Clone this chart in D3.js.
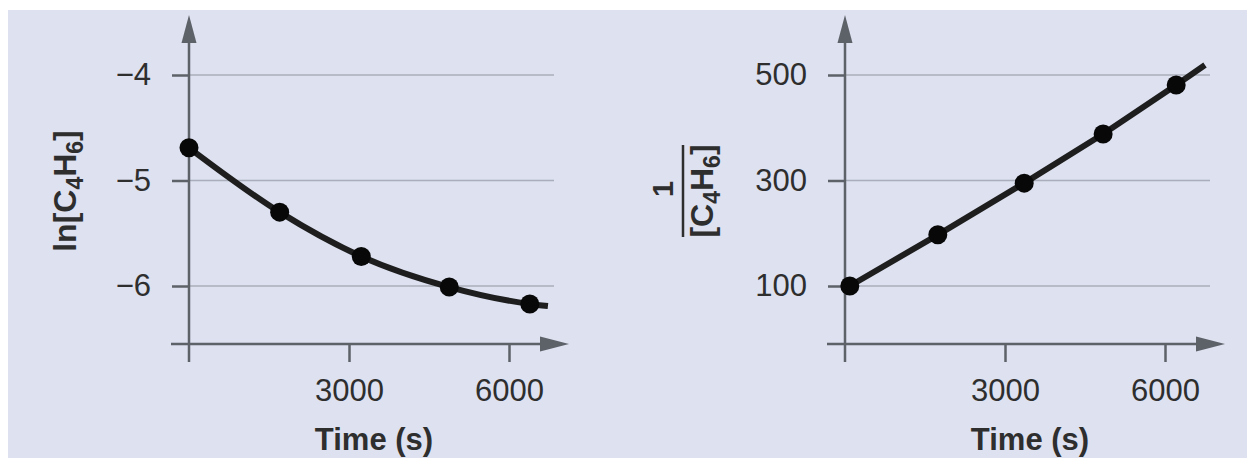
<!DOCTYPE html>
<html>
<head>
<meta charset="utf-8">
<script src="https://cdn.jsdelivr.net/npm/d3@7"></script>
<style>
  html, body { margin: 0; padding: 0; background: #fff; }
  svg { display: block; font-family: "Liberation Sans", Arial, Helvetica, sans-serif; }
</style>
</head>
<body>
<svg id="chart" width="1247" height="458"></svg>
<script>
// values
const timesLn = [0, 1700, 3230, 4880, 6390];
const lnConc = [-4.69, -5.30, -5.72, -6.01, -6.17];
const lnCurveEnd = [6730, -6.19];

const timesInv = [90, 1740, 3360, 4840, 6210];
const invConc = [100, 197, 295, 388, 481];
const invLineEnd = [6750, 519];

const xTicks = [3000, 6000];
const lnTicks = [-4, -5, -6];
const invTicks = [500, 300, 100];
const xTitle = "Time (s)";

const axisColor = "#5d6168";
const gridColor = "#a9aeba";
const textColor = "#2e2e2e";

const svg = d3.select("#chart");

// background
svg.append("rect")
    .attr("x", 8).attr("y", 10)
    .attr("width", 1239).attr("height", 448)
    .attr("fill", "#dde1f0");

function drawPanel(opts) {
    const g = svg.append("g");
    const ax = opts.axisX, ay = 344;

    const x = d3.scaleLinear().domain([0, 6000]).range([ax, ax + 320]);
    const y = d3.scaleLinear().domain(opts.yDomain).range([75, 286]);

    // gridlines
    g.append("g").selectAll("line")
        .data(opts.yTicks)
        .join("line")
        .attr("x1", ax).attr("x2", ax + 365)
        .attr("y1", d => y(d)).attr("y2", d => y(d))
        .attr("stroke", gridColor)
        .attr("stroke-width", 1.5);

    // y axis ticks + labels
    const yAxis = g.append("g")
        .attr("transform", `translate(${ax},0)`)
        .call(d3.axisLeft(y).tickValues(opts.yTicks).tickSize(17).tickPadding(21)
            .tickFormat(opts.yFormat));
    yAxis.select(".domain").remove();
    yAxis.selectAll(".tick line").attr("stroke", axisColor).attr("stroke-width", 2.5);
    yAxis.selectAll(".tick text")
        .attr("fill", textColor)
        .style("font-size", "31px");

    // x axis ticks + labels
    const xAxis = g.append("g")
        .attr("transform", `translate(0,${ay})`)
        .call(d3.axisBottom(x).tickValues(xTicks).tickSize(18).tickPadding(17)
            .tickFormat(d3.format("d")));
    xAxis.select(".domain").remove();
    xAxis.selectAll(".tick line").attr("stroke", axisColor).attr("stroke-width", 2.5);
    xAxis.selectAll(".tick text")
        .attr("fill", textColor)
        .style("font-size", "31px");

    // axis lines with arrows
    g.append("line")
        .attr("x1", ax).attr("x2", ax)
        .attr("y1", 40).attr("y2", 362)
        .attr("stroke", axisColor).attr("stroke-width", 2.5);
    g.append("line")
        .attr("x1", ax - 18).attr("x2", ax + 355)
        .attr("y1", ay).attr("y2", ay)
        .attr("stroke", axisColor).attr("stroke-width", 2.5);
    g.append("path")
        .attr("d", `M${ax},15 L${ax + 7.5},43 L${ax - 7.5},43 Z`)
        .attr("fill", axisColor);
    g.append("path")
        .attr("d", `M${ax + 380},${ay} L${ax + 351},${ay - 7.5} L${ax + 351},${ay + 7.5} Z`)
        .attr("fill", axisColor);

    // x title
    g.append("text")
        .attr("x", ax + 185).attr("y", 450)
        .attr("text-anchor", "middle")
        .attr("fill", textColor)
        .style("font-size", "31px")
        .style("font-weight", "bold")
        .text(xTitle);

    // data line
    const pts = opts.times.map((t, i) => [t, opts.values[i]]).concat([opts.end]);
    const line = d3.line()
        .x(d => x(d[0]))
        .y(d => y(d[1]))
        .curve(opts.curve);
    g.append("path")
        .attr("d", line(pts))
        .attr("fill", "none")
        .attr("stroke", "#1e1e1e")
        .attr("stroke-width", 6);

    // dots
    g.append("g").selectAll("circle")
        .data(opts.times.map((t, i) => [t, opts.values[i]]))
        .join("circle")
        .attr("cx", d => x(d[0]))
        .attr("cy", d => y(d[1]))
        .attr("r", 9.5)
        .attr("fill", "#080808");

    return g;
}

function subLabel(sel, parts, size, subSize) {
    // parts: [text, isSub, backUp]
    parts.forEach(p => {
        sel.append("tspan")
            .attr("dy", p[1] ? 7 : (p[2] ? -7 : 0))
            .style("font-size", (p[1] ? subSize : size) + "px")
            .text(p[0]);
    });
}

// left panel: ln[C4H6]
const left = drawPanel({
    axisX: 189,
    yDomain: [-4, -6],
    yTicks: lnTicks,
    yFormat: d => "\u2212" + Math.abs(d),
    times: timesLn,
    values: lnConc,
    end: lnCurveEnd,
    curve: d3.curveMonotoneX
});

const lt = left.append("text")
    .attr("transform", "translate(76,191) rotate(-90)")
    .attr("text-anchor", "middle")
    .attr("fill", textColor)
    .style("font-weight", "bold");
subLabel(lt, [["ln[C", false], ["4", true], ["H", false, true], ["6", true], ["]", false, true]], 32, 23);

// right panel: 1/[C4H6]
const right = drawPanel({
    axisX: 845,
    yDomain: [500, 100],
    yTicks: invTicks,
    yFormat: d3.format("d"),
    times: timesInv,
    values: invConc,
    end: invLineEnd,
    curve: d3.curveLinear
});

right.append("text")
    .attr("transform", "translate(673,189) rotate(-90)")
    .attr("text-anchor", "middle")
    .attr("fill", textColor)
    .style("font-size", "29px")
    .style("font-weight", "bold")
    .text("1");
right.append("line")
    .attr("x1", 683).attr("x2", 683)
    .attr("y1", 145).attr("y2", 237)
    .attr("stroke", textColor)
    .attr("stroke-width", 2.5);
const rt = right.append("text")
    .attr("transform", "translate(713,191) rotate(-90)")
    .attr("text-anchor", "middle")
    .attr("fill", textColor)
    .style("font-weight", "bold");
subLabel(rt, [["[C", false], ["4", true], ["H", false, true], ["6", true], ["]", false, true]], 32, 23);
</script>
</body>
</html>
